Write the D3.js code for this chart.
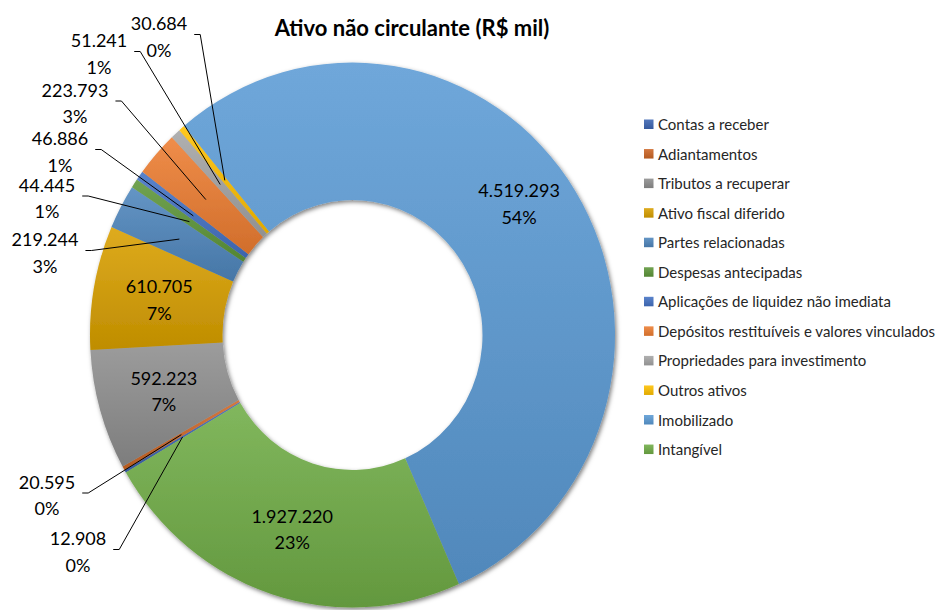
<!DOCTYPE html>
<html lang="pt">
<head>
  <meta charset="UTF-8">
  <title>Ativo não circulante (R$ mil)</title>
  <script src="https://d3js.org/d3.v7.min.js"></script>
  <style>
    body { margin: 0; background: #fff; }
    svg text { font-family: Lato, "Open Sans", sans-serif; }
  </style>
</head>
<body>
<div id="chart"></div>
<script>
  // Data
  const categories = [
    'Contas a receber', 'Adiantamentos', 'Tributos a recuperar', 'Ativo fiscal diferido',
    'Partes relacionadas', 'Despesas antecipadas', 'Aplicações de liquidez não imediata',
    'Depósitos restituíveis e valores vinculados', 'Propriedades para investimento',
    'Outros ativos', 'Imobilizado', 'Intangível'
  ];
  const values = [12908, 20595, 592223, 610705, 219244, 44445, 46886, 223793, 51241, 30684, 4519293, 1927220];
  const colors = [
    '#3d66b3', '#cd6626', '#8e8e8e', '#d9a000', '#4f86bd', '#5e973a',
    '#4472c4', '#ed7d31', '#a5a5a5', '#ffc000', '#5b9bd5', '#70ad47'
  ];
  const title = 'Ativo não circulante (R$ mil)';

  // Layout (manually placed callouts, like the source chart)
  const W = 944, H = 610;
  const cx = 352.5, cy = 335, outerR = 262.5, innerR = 130, stretchY = 1.038;
  const startDeg = 239.7;
  const callouts = {
    'Outros ativos': [159, 36.5],
    'Propriedades para investimento': [99, 53.5],
    'Depósitos restituíveis e valores vinculados': [75, 103],
    'Aplicações de liquidez não imediata': [60, 151.5],
    'Despesas antecipadas': [47, 198],
    'Partes relacionadas': [45, 252.5],
    'Adiantamentos': [47, 495],
    'Contas a receber': [78, 551.5]
  };
  const insideNudge = { 'Imobilizado': -24 };

  const ptBR = d3.formatLocale({ decimal: ',', thousands: '.', grouping: [3], currency: ['R$', ''] });
  const fmt = ptBR.format(',d');
  const total = d3.sum(values);
  const pct = v => Math.round(v / total * 100) + '%';

  const data = categories.map((c, i) => ({ name: c, value: values[i], color: colors[i], i }));

  const svg = d3.select('#chart').append('svg')
    .attr('width', W).attr('height', H);

  const defs = svg.append('defs');
  data.forEach(d => {
    const g = defs.append('linearGradient')
      .attr('id', 'grad' + d.i)
      .attr('x1', 0).attr('y1', 0).attr('x2', 0).attr('y2', 1);
    g.append('stop').attr('offset', '0%').attr('stop-color', d3.interpolateRgb(d.color, '#fff')(0.12));
    g.append('stop').attr('offset', '100%').attr('stop-color', d3.interpolateRgb(d.color, '#000')(0.12));
  });
  const shadow = defs.append('filter').attr('id', 'shadow')
    .attr('x', '-10%').attr('y', '-10%').attr('width', '120%').attr('height', '120%');
  shadow.append('feDropShadow')
    .attr('dx', 1.5).attr('dy', 2).attr('stdDeviation', 2.2)
    .attr('flood-color', '#000').attr('flood-opacity', 0.5);

  const rad = d3.scaleLinear().domain([0, 360]).range([0, 2 * Math.PI]);
  const pie = d3.pie().sort(null).value(d => d.value)
    .startAngle(rad(startDeg)).endAngle(rad(startDeg + 360));
  const arcs = pie(data);
  const arc = d3.arc().innerRadius(innerR).outerRadius(outerR);
  const project = p => [cx + p[0], cy + p[1] * stretchY];

  // Donut
  svg.append('g')
    .attr('transform', `translate(${cx},${cy}) scale(1,${stretchY})`)
    .attr('filter', 'url(#shadow)')
    .selectAll('path')
    .data(arcs)
    .join('path')
    .attr('d', arc)
    .attr('fill', d => `url(#grad${d.data.i})`);

  // Title
  svg.append('text')
    .attr('x', 412).attr('y', 27)
    .attr('text-anchor', 'middle').attr('dominant-baseline', 'central')
    .attr('font-size', 22).attr('font-weight', 700).attr('fill', '#000')
    .text(title);

  const labelSize = 18, lineGap = 26.5;
  const labels = svg.append('g').attr('fill', '#000').attr('font-size', labelSize);

  function drawBlock(x, y, d) {
    const t = labels.append('text')
      .attr('text-anchor', 'middle').attr('dominant-baseline', 'central');
    t.append('tspan').attr('x', x).attr('y', y - lineGap / 2).text(fmt(d.value));
    t.append('tspan').attr('x', x).attr('y', y + lineGap / 2).text(pct(d.value));
    return t;
  }

  arcs.forEach(a => {
    const d = a.data;
    const spot = callouts[d.name];
    const c = project(arc.centroid(a));
    if (spot) {
      const t = drawBlock(spot[0], spot[1], d);
      const w = t.node().getBBox().width;
      const x0 = spot[0] + w / 2 + 7, y0 = spot[1] - 2;
      labels.append('path')
        .attr('d', d3.line()([[x0, y0], [x0 + 6, y0], c]))
        .attr('fill', 'none').attr('stroke', '#000').attr('stroke-width', 1);
    } else {
      drawBlock(c[0], c[1] + (insideNudge[d.name] || 0), d);
    }
  });

  // Legend
  const legend = svg.append('g').attr('transform', 'translate(644,124)');
  const rowY = d3.scaleLinear().domain([0, 1]).range([0, 29.55]);
  const item = legend.selectAll('g').data(data).join('g')
    .attr('transform', (d, i) => `translate(0,${rowY(i)})`);
  item.append('rect')
    .attr('x', 0).attr('y', -4.5).attr('width', 9.5).attr('height', 9.5)
    .attr('fill', d => `url(#grad${d.i})`);
  item.append('text')
    .attr('x', 14).attr('y', 0).attr('dominant-baseline', 'central')
    .attr('font-size', 15).attr('fill', '#262626')
    .text(d => d.name);
</script>
</body>
</html>
